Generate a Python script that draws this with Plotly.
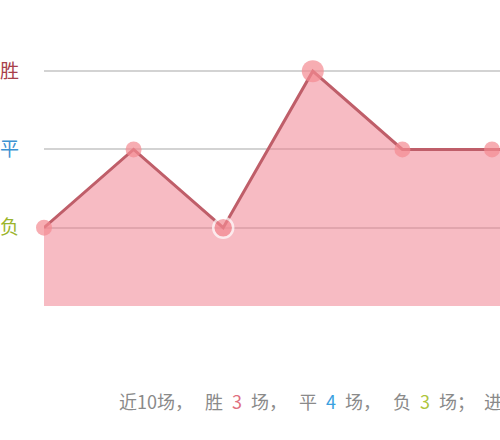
import plotly.graph_objects as go

# data
matches = [1, 2, 3, 4, 5, 6, 7]
results = [1, 2, 1, 3, 2, 2, 2]          # 1=负, 2=平, 3=胜
level_vals = [1, 2, 3]
level_text = ["负", "平", "胜"]
level_colors = ["#9cb52c", "#3c92d2", "#a8404b"]
summary_total = 10
summary_counts = {"胜": 3, "平": 4, "负": 3}

# marker styling (not data)
m_size = [16, 16, 20, 22, 16, 16, 16]
m_line_w = [0, 0, 2.5, 0, 0, 0, 0]

fig = go.Figure()
fig.add_trace(go.Scatter(
    x=matches, y=results, mode="lines+markers",
    fill="tozeroy", fillcolor="rgba(240,120,135,0.5)",
    line=dict(color="#bf5e69", width=3),
    marker=dict(color="#f38a92", size=m_size,
                line=dict(color="white", width=m_line_w)),
    cliponaxis=False, hoverinfo="skip",
))

ticktext = [f"<span style='color:{c}'>{t}</span>" for t, c in zip(level_text, level_colors)]

gap = "\u2002\u2006"
sp = "\u2002"
summary = (f"近{summary_total}场，{gap}胜{sp}<span style='color:#e0707f'>{summary_counts['胜']}</span>{sp}场，{gap}"
           f"平{sp}<span style='color:#3aa0e0'>{summary_counts['平']}</span>{sp}场，{gap}"
           f"负{sp}<span style='color:#adc53c'>{summary_counts['负']}</span>{sp}场；{sp}进")

fig.add_annotation(text=summary, xref="paper", yref="paper",
                   x=(117 - 44) / 456, y=-95 / 274, xanchor="left", yanchor="middle",
                   showarrow=False, font=dict(size=18, color="#8a8a8a"))

fig.update_layout(
    width=500, height=440,
    margin=dict(l=44, r=0, t=32, b=134),
    paper_bgcolor="white", plot_bgcolor="white",
    showlegend=False,
    font=dict(family="Noto Sans CJK SC, sans-serif"),
    xaxis=dict(range=[1, 1 + 456 / 89.6], showgrid=False, zeroline=False,
               showticklabels=False, showline=False, automargin=False),
    yaxis=dict(range=[0, 3.5], tickvals=level_vals, ticktext=ticktext,
               showgrid=True, gridcolor="#d3d3d3", gridwidth=1.5,
               zeroline=False, showline=False, ticks="", automargin=False,
               tickfont=dict(size=19), ticklabelstandoff=24),
)

fig.write_html("out.html", config={"displayModeBar": False},
               post_script="document.body.style.margin='0';document.body.style.overflow='hidden';")
